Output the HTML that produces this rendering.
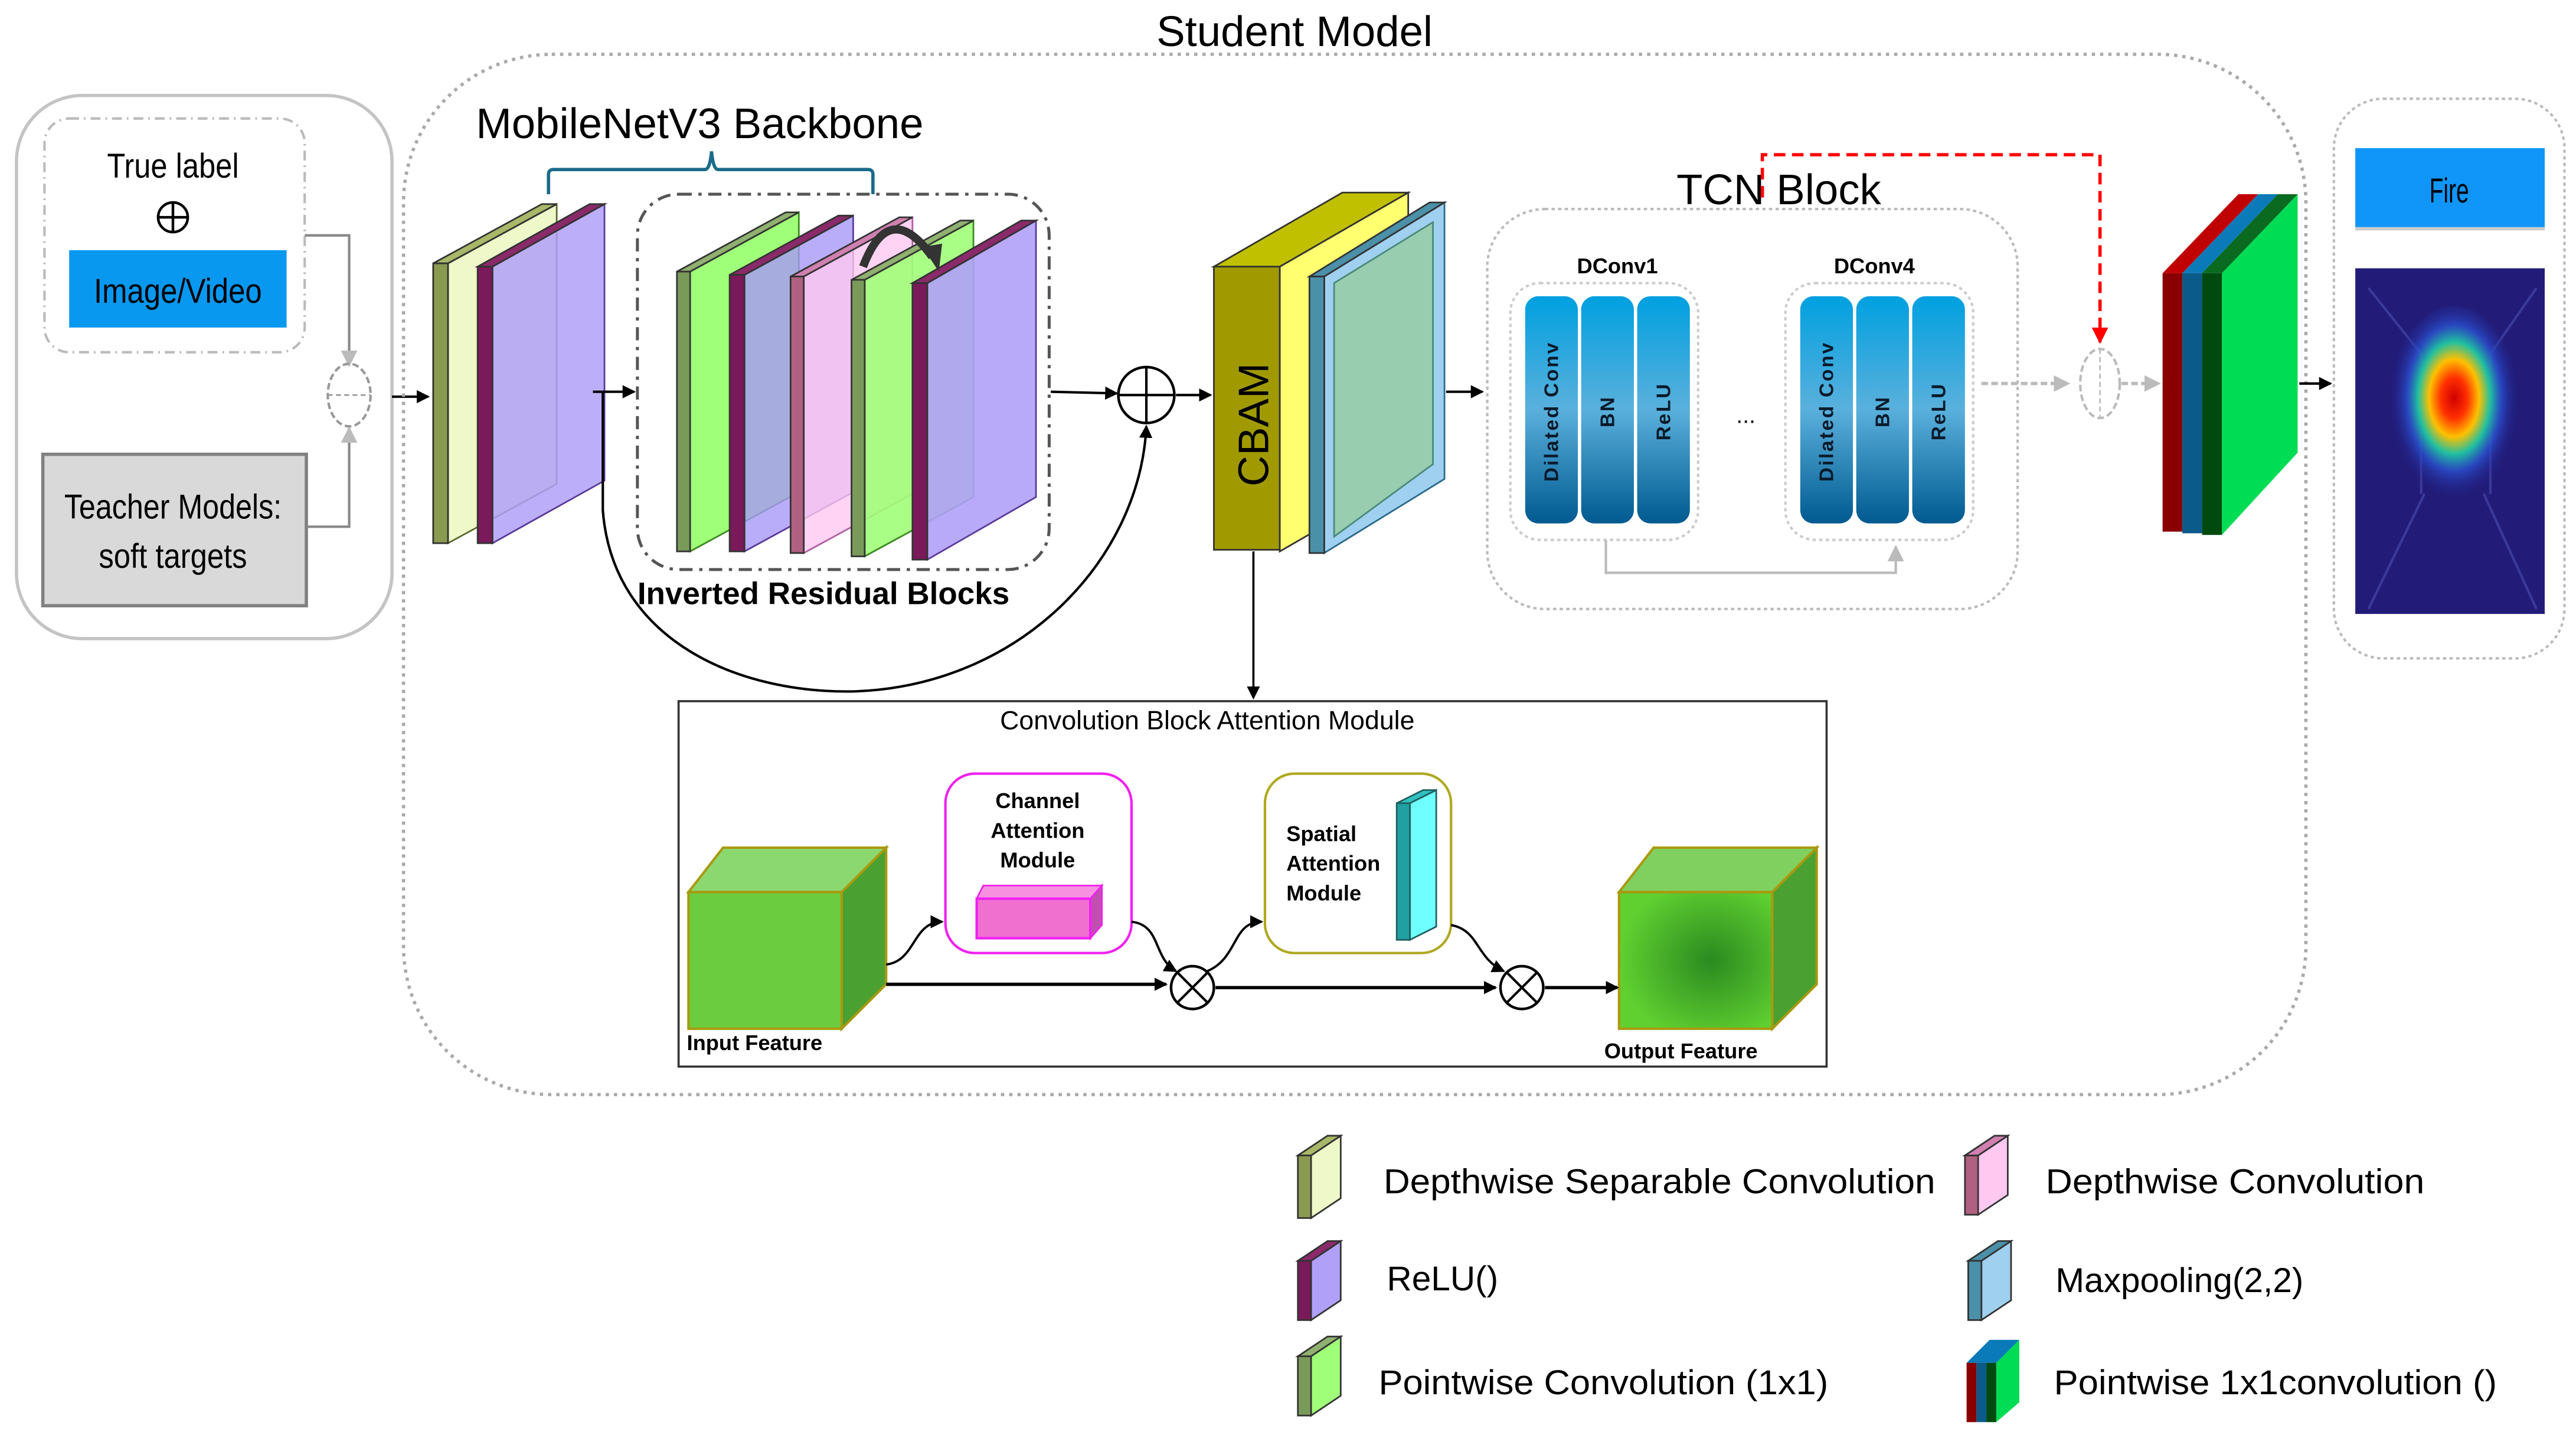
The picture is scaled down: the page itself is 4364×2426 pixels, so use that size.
<!DOCTYPE html>
<html><head><meta charset="utf-8"><style>
html,body{margin:0;padding:0;background:#fff}
svg{display:block}
text{font-family:"Liberation Sans",sans-serif}
</style></head><body>
<svg width="4364" height="2426" viewBox="0 0 1564 870" preserveAspectRatio="none" xmlns="http://www.w3.org/2000/svg">
<defs>
<marker id="ah" markerWidth="8" markerHeight="8" refX="7" refY="4" orient="auto" markerUnits="userSpaceOnUse"><path d="M0,0 L8,4 L0,8 z" fill="#000"/></marker>
<marker id="ahg" markerWidth="10" markerHeight="10" refX="9" refY="5" orient="auto" markerUnits="userSpaceOnUse"><path d="M0,0 L10,5 L0,10 z" fill="#bbb"/></marker>
<marker id="ahr" markerWidth="10" markerHeight="10" refX="9" refY="5" orient="auto" markerUnits="userSpaceOnUse"><path d="M0,0 L10,5 L0,10 z" fill="#f00"/></marker>
<linearGradient id="pill" x1="0" y1="0" x2="0" y2="1"><stop offset="0" stop-color="#00a0e0"/><stop offset="0.5" stop-color="#5ab0dc"/><stop offset="1" stop-color="#005a90"/></linearGradient>
<radialGradient id="heat" cx="0.5" cy="0.45" r="0.5"><stop offset="0" stop-color="#d00000"/><stop offset="0.2" stop-color="#ff3000"/><stop offset="0.38" stop-color="#ffc000"/><stop offset="0.55" stop-color="#20c0a0"/><stop offset="0.72" stop-color="#2a50d0" stop-opacity="0.8"/><stop offset="1" stop-color="#201a80" stop-opacity="0"/></radialGradient>
<radialGradient id="outg" cx="0.6" cy="0.5" r="0.6"><stop offset="0" stop-color="#2a8a20"/><stop offset="1" stop-color="#60d030"/></radialGradient>
</defs>

<!-- Left panel -->
<rect x="10" y="58" width="228" height="330" rx="40" fill="none" stroke="#c4c4c4" stroke-width="2"/>
<rect x="27" y="72" width="158" height="142" rx="15" fill="none" stroke="#bbb" stroke-width="1.5" stroke-dasharray="6,3,1,3"/>
<text x="105" y="108" font-size="21" text-anchor="middle" textLength="80" lengthAdjust="spacingAndGlyphs">True label</text>
<circle cx="105" cy="132" r="9" fill="none" stroke="#000" stroke-width="1.6"/>
<line x1="96" y1="132" x2="114" y2="132" stroke="#000" stroke-width="1.6"/><line x1="105" y1="123" x2="105" y2="141" stroke="#000" stroke-width="1.6"/>
<rect x="42" y="152" width="132" height="47" fill="#0898f0"/>
<text x="108" y="184" font-size="21" text-anchor="middle" textLength="102" lengthAdjust="spacingAndGlyphs">Image/Video</text>
<rect x="26" y="276" width="160" height="92" fill="#d9d9d9" stroke="#808080" stroke-width="2"/>
<text x="105" y="315" font-size="21" text-anchor="middle" textLength="132" lengthAdjust="spacingAndGlyphs">Teacher Models:</text>
<text x="105" y="345" font-size="21" text-anchor="middle" textLength="90" lengthAdjust="spacingAndGlyphs">soft targets</text>
<path d="M185,143 L212,143 L212,222" fill="none" stroke="#888" stroke-width="1.5" marker-end="url(#ahg)"/>
<path d="M186,320 L212,320 L212,260" fill="none" stroke="#888" stroke-width="1.5" marker-end="url(#ahg)"/>
<ellipse cx="212" cy="240" rx="13" ry="19" fill="none" stroke="#999" stroke-width="1.5" stroke-dasharray="4,2"/>
<line x1="199" y1="240" x2="225" y2="240" stroke="#999" stroke-dasharray="3,2"/>
<line x1="238" y1="241" x2="260" y2="241" stroke="#000" stroke-width="1.5" marker-end="url(#ah)"/>

<!-- Student model -->
<rect x="245" y="33" width="1155" height="632" rx="90" fill="none" stroke="#aaa" stroke-width="2" stroke-dasharray="2,3"/>
<text x="786" y="28" font-size="26" text-anchor="middle">Student Model</text>
<text x="289" y="84" font-size="26">MobileNetV3 Backbone</text>
<path d="M333,118 L333,106 Q333,103 336,103 L428,103 Q431,103 432,92 Q433,103 436,103 L527,103 Q530,103 530,106 L530,118" fill="none" stroke="#1a6a8a" stroke-width="2"/>

<!-- first two slabs -->
<polygon points="272,160 338,124 338,294 272,330" fill="#eef8c8" stroke="#5a6a30"/>
<polygon points="263,160 272,160 338,124 329,124" fill="#a8b868" stroke="#333"/>
<rect x="263" y="160" width="9" height="170" fill="#8a9a50" stroke="#333"/>
<polygon points="299,162 367,124 367,292 299,330" fill="#b0a0f8" fill-opacity="0.85" stroke="#5a3a9a"/>
<polygon points="290,162 299,162 367,124 358,124" fill="#8a2a6a" stroke="#333"/>
<rect x="290" y="162" width="9" height="168" fill="#7a1a5a" stroke="#333"/>

<!-- IRB -->
<rect x="387" y="118" width="250" height="228" rx="25" fill="none" stroke="#555" stroke-width="1.8" stroke-dasharray="8,4,2,4"/>
<polygon points="419,165 485,129 485,299 419,335" fill="#a0ff78" stroke="#3a8a20"/>
<polygon points="411,165 419,165 485,129 477,129" fill="#90b070" stroke="#333"/>
<rect x="411" y="165" width="8" height="170" fill="#7a9a5a" stroke="#333"/>
<polygon points="452,167 518,131 518,299 452,335" fill="#a898f8" fill-opacity="0.8" stroke="#5a3a9a"/>
<polygon points="443,167 452,167 518,131 509,131" fill="#8a2a6a" stroke="#333"/>
<rect x="443" y="167" width="9" height="168" fill="#7a1a5a" stroke="#333"/>
<polygon points="488,168 554,132 554,300 488,336" fill="#ffc8f0" fill-opacity="0.8" stroke="#b060a0"/>
<polygon points="480,168 488,168 554,132 546,132" fill="#d080b0" stroke="#333"/>
<rect x="480" y="168" width="8" height="168" fill="#b06080" stroke="#333"/>
<polygon points="525,170 591,134 591,302 525,338" fill="#a0ff78" fill-opacity="0.9" stroke="#3a8a20"/>
<polygon points="517,170 525,170 591,134 583,134" fill="#90b070" stroke="#333"/>
<rect x="517" y="170" width="8" height="168" fill="#7a9a5a" stroke="#333"/>
<polygon points="563,172 629,134 629,302 563,340" fill="#b0a0f8" fill-opacity="0.9" stroke="#5a3a9a"/>
<polygon points="554,172 563,172 629,134 620,134" fill="#8a2a6a" stroke="#333"/>
<rect x="554" y="172" width="9" height="168" fill="#7a1a5a" stroke="#333"/>
<path d="M524,162 Q540,120 566,156" fill="none" stroke="#333" stroke-width="5"/>
<path d="M560,150 L570,165 L572,148 z" fill="#333"/>
<text x="387" y="367" font-size="19" font-weight="bold">Inverted Residual Blocks</text>

<line x1="360" y1="238" x2="385" y2="238" stroke="#000" stroke-width="1.5" marker-end="url(#ah)"/>
<line x1="638" y1="238" x2="678" y2="239" stroke="#000" stroke-width="1.5" marker-end="url(#ah)"/>
<circle cx="696" cy="240" r="17" fill="#fff" stroke="#000" stroke-width="1.6"/>
<line x1="679" y1="240" x2="713" y2="240" stroke="#000" stroke-width="1.5"/><line x1="696" y1="223" x2="696" y2="257" stroke="#000" stroke-width="1.5"/>
<path d="M366,238 L366,310 C372,390 450,422 520,420 C620,416 692,340 696,259" fill="none" stroke="#000" stroke-width="1.5" marker-end="url(#ah)"/>
<line x1="714" y1="240" x2="735" y2="240" stroke="#000" stroke-width="1.5" marker-end="url(#ah)"/>

<!-- CBAM block -->
<polygon points="777,162 855,117 855,290 777,335" fill="#ffff70" stroke="#333"/>
<polygon points="737,162 777,162 855,117 815,117" fill="#c0c000" stroke="#333"/>
<rect x="737" y="162" width="40" height="172" fill="#a09a00" stroke="#333"/>
<text transform="translate(770,258) rotate(-90)" font-size="26" text-anchor="middle">CBAM</text>
<polygon points="804,168 877,123 877,291 804,336" fill="#a0d0f0" stroke="#2a6a8a"/>
<polygon points="810,172 870,135 870,282 810,326" fill="#98cdb0" stroke="#4a8a7a"/>
<polygon points="795,168 804,168 877,123 868,123" fill="#4a90a8" stroke="#333"/>
<rect x="795" y="168" width="9" height="168" fill="#4a90a8" stroke="#333"/>
<line x1="878" y1="238" x2="900" y2="238" stroke="#000" stroke-width="1.5" marker-end="url(#ah)"/>
<line x1="761" y1="335" x2="761" y2="424" stroke="#000" stroke-width="1.3" marker-end="url(#ah)"/>

<!-- TCN -->
<rect x="903" y="127" width="322" height="243" rx="35" fill="none" stroke="#bbb" stroke-width="1.5" stroke-dasharray="2,2"/>
<text x="1080" y="124" font-size="26" text-anchor="middle">TCN Block</text>
<text x="982" y="166" font-size="13" font-weight="bold" text-anchor="middle">DConv1</text>
<text x="1138" y="166" font-size="13" font-weight="bold" text-anchor="middle">DConv4</text>
<rect x="917" y="172" width="114" height="156" rx="18" fill="none" stroke="#ccc" stroke-dasharray="2,2" stroke-width="1.5"/>
<rect x="1084" y="172" width="114" height="156" rx="18" fill="none" stroke="#ccc" stroke-dasharray="2,2" stroke-width="1.5"/>
<g font-size="12" font-weight="bold" fill="#0a1a2a" letter-spacing="1">
<rect x="926" y="180" width="32" height="138" rx="8" fill="url(#pill)"/>
<rect x="960" y="180" width="32" height="138" rx="8" fill="url(#pill)"/>
<rect x="994" y="180" width="32" height="138" rx="8" fill="url(#pill)"/>
<rect x="1093" y="180" width="32" height="138" rx="8" fill="url(#pill)"/>
<rect x="1127" y="180" width="32" height="138" rx="8" fill="url(#pill)"/>
<rect x="1161" y="180" width="32" height="138" rx="8" fill="url(#pill)"/>
<text transform="translate(946,250) rotate(-90)" text-anchor="middle">Dilated Conv</text>
<text transform="translate(980,250) rotate(-90)" text-anchor="middle">BN</text>
<text transform="translate(1014,250) rotate(-90)" text-anchor="middle">ReLU</text>
<text transform="translate(1113,250) rotate(-90)" text-anchor="middle">Dilated Conv</text>
<text transform="translate(1147,250) rotate(-90)" text-anchor="middle">BN</text>
<text transform="translate(1181,250) rotate(-90)" text-anchor="middle">ReLU</text>
</g>
<text x="1060" y="257" font-size="14" text-anchor="middle">...</text>
<path d="M975,328 L975,348 L1151,348 L1151,332" fill="none" stroke="#bbb" stroke-width="1.5" marker-end="url(#ahg)"/>

<path d="M1070,120 L1070,94 L1275,94 L1275,208" fill="none" stroke="#f00" stroke-width="2" stroke-dasharray="7,4" marker-end="url(#ahr)"/>
<line x1="1203" y1="233" x2="1256" y2="233" stroke="#bbb" stroke-width="2" stroke-dasharray="4,2" marker-end="url(#ahg)"/>
<ellipse cx="1275" cy="233" rx="12" ry="21" fill="none" stroke="#bbb" stroke-width="1.5" stroke-dasharray="4,2"/>
<line x1="1275" y1="212" x2="1275" y2="254" stroke="#bbb" stroke-dasharray="3,2"/>
<line x1="1288" y1="233" x2="1311" y2="233" stroke="#bbb" stroke-width="2" stroke-dasharray="4,2" marker-end="url(#ahg)"/>

<!-- output stack -->
<polygon points="1349,166 1395,118 1395,275 1349,325" fill="#00dd55"/>
<polygon points="1313,166 1325,166 1371,118 1359,118" fill="#c00000"/>
<polygon points="1325,166 1337,166 1383,118 1371,118" fill="#0a7ab8"/>
<polygon points="1337,166 1349,166 1395,118 1383,118" fill="#0a6a20"/>
<rect x="1313" y="166" width="12" height="157" fill="#8a0000"/>
<rect x="1325" y="166" width="12" height="158" fill="#0a5a8a"/>
<rect x="1337" y="166" width="12" height="159" fill="#004a10"/>
<line x1="1396" y1="233" x2="1415" y2="233" stroke="#000" stroke-width="1.5" marker-end="url(#ah)"/>

<!-- right panel -->
<rect x="1417" y="60" width="140" height="340" rx="30" fill="none" stroke="#bbb" stroke-width="1.5" stroke-dasharray="2,2"/>
<rect x="1430" y="90" width="115" height="48" fill="#1096f8"/>
<line x1="1430" y1="139" x2="1545" y2="139" stroke="#ccc" stroke-width="2"/>
<text x="1487" y="123" font-size="21" text-anchor="middle" textLength="24" lengthAdjust="spacingAndGlyphs">Fire</text>
<rect x="1430" y="163" width="115" height="210" fill="#221c78"/>
<g stroke="#3a3a9a" stroke-width="1.5" fill="none">
<path d="M1438,175 L1470,215 M1540,175 L1512,215 M1438,370 L1472,300 M1540,370 L1508,300 M1470,215 L1470,300 M1512,215 L1512,300"/>
</g>
<ellipse cx="1490" cy="248" rx="40" ry="62" fill="url(#heat)"/>

<!-- CBAM module -->
<rect x="412" y="426" width="697" height="222" fill="#fff" stroke="#333" stroke-width="1.3"/>
<text x="733" y="443" font-size="16" text-anchor="middle">Convolution Block Attention Module</text>
<polygon points="418,542 439,515 538,515 511,542" fill="#8cd870" stroke="#a89a10" stroke-width="1.5"/>
<polygon points="511,542 538,515 538,598 511,625" fill="#4aa030" stroke="#a89a10" stroke-width="1.5"/>
<rect x="418" y="542" width="93" height="83" fill="#6ccc40" stroke="#a89a10" stroke-width="1.5"/>
<text x="417" y="638" font-size="13" font-weight="bold">Input Feature</text>
<rect x="574" y="470" width="113" height="109" rx="18" fill="#fff" stroke="#f020f0" stroke-width="1.5"/>
<g font-size="13" font-weight="bold" text-anchor="middle"><text x="630" y="491">Channel</text><text x="630" y="509">Attention</text><text x="630" y="527">Module</text></g>
<polygon points="593,546 597,538 669,538 662,546" fill="#f890e0" stroke="#f020f0"/>
<polygon points="662,546 669,538 669,562 662,570" fill="#c050b0" stroke="#f020f0"/>
<rect x="593" y="546" width="69" height="24" fill="#f070d0" stroke="#f020f0" stroke-width="1.5"/>
<rect x="768" y="470" width="113" height="109" rx="18" fill="#fff" stroke="#b0a820" stroke-width="1.5"/>
<g font-size="13" font-weight="bold"><text x="781" y="511">Spatial</text><text x="781" y="529">Attention</text><text x="781" y="547">Module</text></g>
<polygon points="848,488 856,488 872,480 864,480" fill="#30c0c0" stroke="#206060"/>
<polygon points="856,488 872,480 872,563 856,571" fill="#70ffff" stroke="#206060"/>
<rect x="848" y="488" width="8" height="83" fill="#20a0a0" stroke="#206060"/>
<polygon points="983,542 1004,515 1103,515 1076,542" fill="#80d060" stroke="#a89a10" stroke-width="1.5"/>
<polygon points="1076,542 1103,515 1103,598 1076,625" fill="#4aa030" stroke="#a89a10" stroke-width="1.5"/>
<rect x="983" y="542" width="93" height="83" fill="url(#outg)" stroke="#a89a10" stroke-width="1.5"/>
<text x="974" y="643" font-size="13" font-weight="bold">Output Feature</text>
<line x1="538" y1="598" x2="708" y2="598" stroke="#000" stroke-width="2" marker-end="url(#ah)"/>
<line x1="738" y1="600" x2="908" y2="600" stroke="#000" stroke-width="2" marker-end="url(#ah)"/>
<line x1="938" y1="600" x2="982" y2="600" stroke="#000" stroke-width="2" marker-end="url(#ah)"/>
<g fill="#fff" stroke="#000" stroke-width="1.6">
<ellipse cx="724" cy="600" rx="13" ry="13"/><ellipse cx="924" cy="600" rx="13" ry="13"/></g>
<g stroke="#000" stroke-width="1.5"><line x1="715" y1="591" x2="733" y2="609"/><line x1="733" y1="591" x2="715" y2="609"/><line x1="915" y1="591" x2="933" y2="609"/><line x1="933" y1="591" x2="915" y2="609"/></g>
<g fill="none" stroke="#000" stroke-width="1.4">
<path d="M538,586 C556,584 554,560 572,560" marker-end="url(#ah)"/>
<path d="M687,560 C705,562 700,582 714,590" marker-end="url(#ah)"/>
<path d="M733,590 C752,582 748,560 766,560" marker-end="url(#ah)"/>
<path d="M881,562 C898,565 896,582 913,590" marker-end="url(#ah)"/>
</g>

<!-- Legend -->
<g stroke="#333">
<polygon points="796,702 814,690 814,728 796,740" fill="#eef8c8"/><polygon points="788,702 796,702 814,690 806,690" fill="#a8b868"/><rect x="788" y="702" width="8" height="38" fill="#8a9a50"/>
<polygon points="796,766 814,754 814,790 796,802" fill="#b0a0f8"/><polygon points="788,766 796,766 814,754 806,754" fill="#8a2a6a"/><rect x="788" y="766" width="8" height="36" fill="#7a1a5a"/>
<polygon points="796,824 814,812 814,848 796,860" fill="#a0ff78"/><polygon points="788,824 796,824 814,812 806,812" fill="#90b070"/><rect x="788" y="824" width="8" height="36" fill="#7a9a5a"/>
<polygon points="1201,702 1219,690 1219,726 1201,738" fill="#ffc8f0"/><polygon points="1193,702 1201,702 1219,690 1211,690" fill="#d080b0"/><rect x="1193" y="702" width="8" height="36" fill="#b06080"/>
<polygon points="1203,766 1221,754 1221,790 1203,802" fill="#a0d0f0"/><polygon points="1195,766 1203,766 1221,754 1213,754" fill="#4a90a8"/><rect x="1195" y="766" width="8" height="36" fill="#4a90a8"/>
</g>
<polygon points="1212,828 1226,814 1226,852 1212,864" fill="#00dd55"/>
<polygon points="1194,828 1212,828 1226,814 1208,814" fill="#0a7ab8"/>
<rect x="1194" y="828" width="6" height="36" fill="#8a0000"/><rect x="1200" y="828" width="6" height="36" fill="#0a5a8a"/><rect x="1206" y="828" width="6" height="36" fill="#004a10"/>
<g font-size="21">
<text x="840" y="725" textLength="335" lengthAdjust="spacingAndGlyphs">Depthwise Separable Convolution</text>
<text x="842" y="784">ReLU()</text>
<text x="837" y="847" textLength="273" lengthAdjust="spacingAndGlyphs">Pointwise Convolution (1x1)</text>
<text x="1242" y="725" textLength="230" lengthAdjust="spacingAndGlyphs">Depthwise Convolution</text>
<text x="1248" y="785">Maxpooling(2,2)</text>
<text x="1247" y="847" textLength="269" lengthAdjust="spacingAndGlyphs">Pointwise 1x1convolution ()</text>
</g>
</svg>
</body></html>
